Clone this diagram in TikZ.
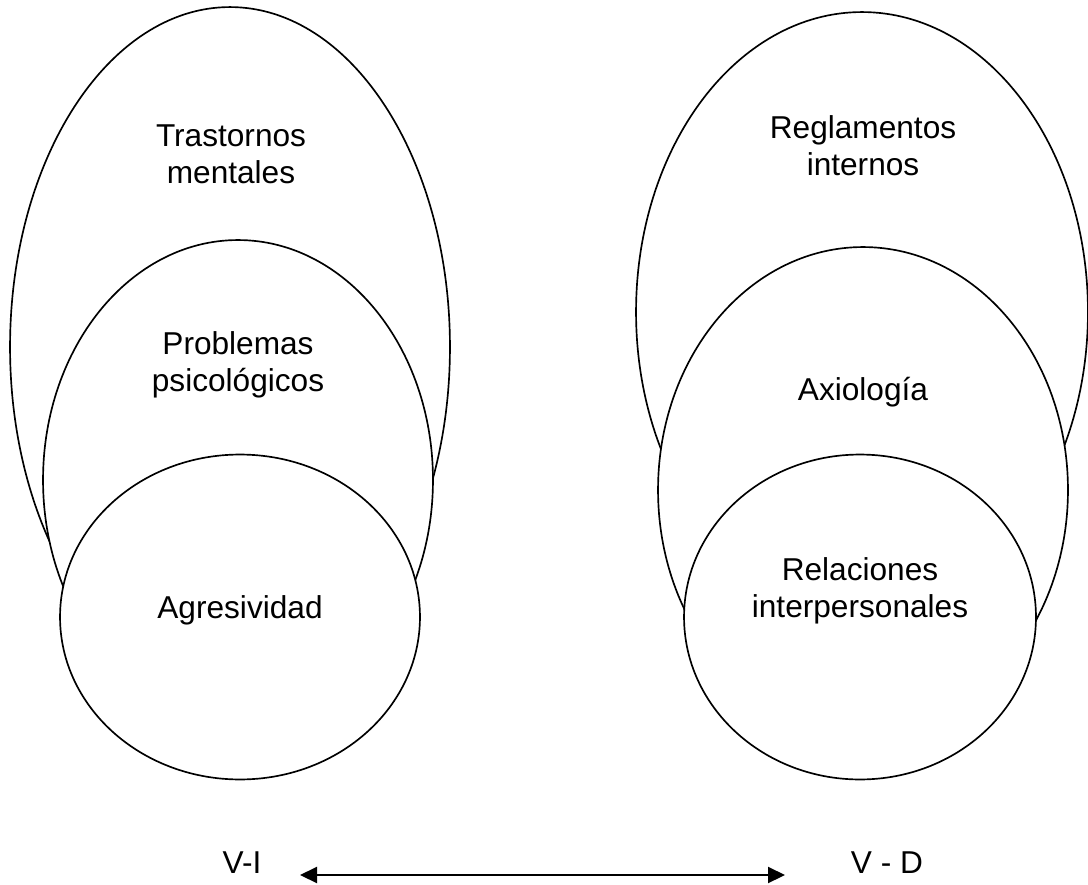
\documentclass[tikz,border=0pt]{standalone}
\usepackage{fontspec}
\setmainfont{Liberation Sans}
\usetikzlibrary{arrows.meta,shapes.geometric}

\begin{document}
\begin{tikzpicture}[x=0.02cm,y=-0.02cm,
  zone/.style={ellipse,draw,fill=white,line width=0.95pt,inner sep=0pt},
  lab/.style={align=center,font=\fontsize{18}{21}\selectfont},
  a/.style={{Triangle[length=3.4mm,width=3.2mm]}-{Triangle[length=3.4mm,width=3.2mm]},line width=1.2pt}]
 \useasboundingbox (0,0) rectangle (1088,885);
 % left group: V-I
 \node[zone,minimum width=8.8cm,minimum height=13.6cm] (lt) at (230,347) {};
 \node[zone,minimum width=7.8cm,minimum height=9.6cm] (lm) at (238,480) {};
 \node[zone,minimum width=7.2cm,minimum height=6.5cm] (ls) at (240,617) {};
 \node[lab] (tras) at (231,154) {Trastornos\\ mentales};
 \node[lab] (prob) at (238,365) {Problemas\\ psicológicos};
 \node[lab] (agre) at (240,610) {Agresividad};
 % right group: V - D
 \node[zone,minimum width=9.04cm,minimum height=12cm] (rt) at (862,312) {};
 \node[zone,minimum width=8.2cm,minimum height=9.72cm] (rm) at (863,490) {};
 \node[zone,minimum width=7.04cm,minimum height=6.5cm] (rs) at (860,617) {};
 \node[lab] (regl) at (863,146) {Reglamentos\\ internos};
 \node[lab] (axio) at (863,392) {Axiología};
 \node[lab] (rela) at (860,591) {Relaciones\\ interpersonales};
 % axis
 \node[lab] (vi) at (242,863) {V-I};
 \node[lab] (vd) at (887,863) {V - D};
 \coordinate (al) at (300,875);
 \coordinate (ar) at (785,875);
 \draw[a] (al) -- (ar);
\end{tikzpicture}
\end{document}
